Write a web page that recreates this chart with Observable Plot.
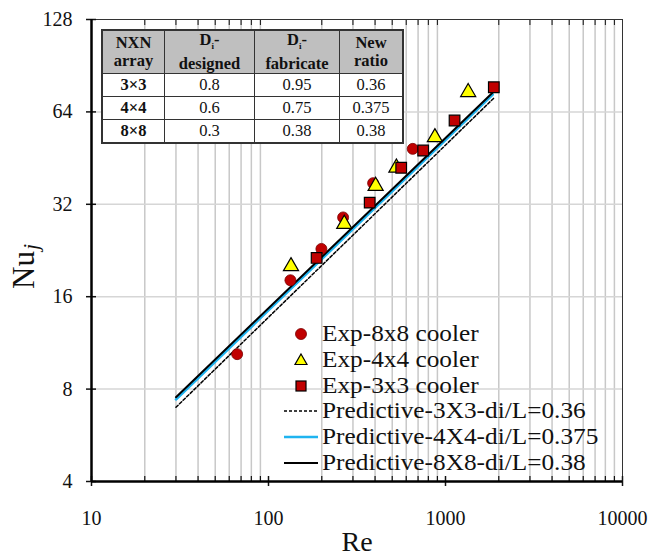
<!DOCTYPE html>
<html>
<head>
<meta charset="utf-8">
<script src="https://cdn.jsdelivr.net/npm/d3@7"></script>
<script src="https://cdn.jsdelivr.net/npm/@observablehq/plot@0.6"></script>
<style>
  html, body { margin: 0; padding: 0; background: white; }
  #wrap { position: relative; width: 654px; height: 558px; font-family: "Liberation Serif", "Times New Roman", Times, serif; }
  #tbl { position: absolute; left: 102px; top: 30px; border-collapse: collapse; background: white; font-size: 16.5px; color: #111; font-family: "Liberation Serif", "Times New Roman", Times, serif; }
  #tbl td, #tbl th { border: 1.5px solid #333; text-align: center; padding: 0; font-family: "Liberation Serif", "Times New Roman", Times, serif; }
  #tbl th { background: #bfbfbf; font-weight: bold; line-height: 18px; height: 40px; font-size: 16.5px; }
  #tbl td { height: 22px; line-height: 20px; }
  #tbl td.b { font-weight: bold; }
  #tbl { outline: 1px solid #333; }
  #legend { position: absolute; left: 283px; top: 321px; font-size: 23px; color: #111; font-family: "Liberation Serif", "Times New Roman", Times, serif; }
  .row { display: flex; align-items: center; height: 25.8px; }
  .row svg { flex: none; }
  .row span { margin-left: 3px; white-space: nowrap; display: inline-block; transform: scaleX(1.1); transform-origin: left center; }
</style>
</head>
<body>
<div id="wrap"></div>
<script>
// ---- axis ticks ----
const xMajor = [10, 100, 1000, 10000];
const xMinor = [20, 30, 40, 50, 60, 70, 80, 90, 200, 300, 400, 500, 600, 700, 800, 900, 2000, 3000, 4000, 5000, 6000, 7000, 8000, 9000];
const yTicks = [4, 8, 16, 32, 64, 128];
const yGrid = [8, 16, 32, 64];

// ---- experimental data ----
const re8 = [66.5, 133, 199, 264, 390, 653];
const nu8 = [10.4, 18.1, 22.9, 29.0, 37.5, 48.5];
const re4 = [134, 268, 403, 528, 871, 1343];
const nu4 = [20.1, 27.6, 36.7, 42.1, 52.9, 74.2];
const re3 = [187, 373, 562, 748, 1125, 1875];
const nu3 = [21.4, 32.4, 42.1, 47.9, 60.0, 77.0];

// ---- predictive lines (end points) ----
const rePred36 = [30, 1900];
const nuPred36 = [6.98, 71.5];
const rePred375 = [30, 1850];
const nuPred375 = [7.40, 72.9];
const rePred38 = [30, 1850];
const nuPred38 = [7.53, 74.0];

// ---- legend labels ----
const legendLabels = ["Exp-8x8 cooler", "Exp-4x4 cooler", "Exp-3x3 cooler",
  "Predictive-3X3-di/L=0.36", "Predictive-4X4-di/L=0.375", "Predictive-8X8-di/L=0.38"];

// ---- table ----
const tableHeader = ["NXN<br>array", "D<sub style='font-size:9px'>i</sub>-<br>designed", "D<sub style='font-size:9px'>i</sub>-<br>fabricate", "New<br>ratio"];
const colWidths = [61, 89, 84, 62];
const arrays = ["3×3", "4×4", "8×8"];
const designed = ["0.8", "0.6", "0.3"];
const fabricate = ["0.95", "0.75", "0.38"];
const ratio = ["0.36", "0.375", "0.38"];

const zip = (xs, ys) => xs.map((x, i) => ({re: x, nu: ys[i]}));
const d8 = zip(re8, nu8), d4 = zip(re4, nu4), d3s = zip(re3, nu3);
const p36 = zip(rePred36, nuPred36), p375 = zip(rePred375, nuPred375), p38 = zip(rePred38, nuPred38);

const RED = "#c00000", YEL = "#ffff00", BLUE = "#1fb4f0";
const SERIF = "'Liberation Serif', 'Times New Roman', Times, serif";

const chart = Plot.plot({
  width: 654, height: 558,
  marginLeft: 91, marginRight: 32, marginTop: 19, marginBottom: 77,
  x: {type: "log", domain: [10, 10000]},
  y: {type: "log", base: 2, domain: [4, 128]},
  style: {fontFamily: SERIF, color: "#111", background: "white", overflow: "visible"},
  marks: [
    Plot.ruleX(xMinor, {stroke: "#c8c8c8", strokeWidth: 1.5}),
    Plot.ruleY(yGrid, {stroke: "#d6d6d6", strokeWidth: 1.5}),
    Plot.ruleX([10000], {stroke: "#333", strokeWidth: 1}),
    Plot.ruleY([128], {stroke: "#333", strokeWidth: 1}),
    Plot.axisX(xMajor, {tickSize: 10, dy: -5, tickFormat: () => "", label: null, strokeWidth: 1.5}),
    Plot.axisX(xMinor, {tickSize: 5, dy: -5, tickFormat: () => "", label: null, strokeWidth: 1.2}),
    Plot.axisX(xMinor, {anchor: "top", tickSize: 5, dy: 5, tickFormat: () => "", label: null, strokeWidth: 1}),
    Plot.axisY(yTicks, {tickSize: 10, dx: 5, tickFormat: () => "", label: null, strokeWidth: 1.5}),
    Plot.ruleX([10], {stroke: "black", strokeWidth: 2.5}),
    Plot.ruleY([4], {stroke: "black", strokeWidth: 2.5}),
    Plot.text(yTicks, {y: d => d, text: d => String(d), frameAnchor: "left", dx: -19, textAnchor: "end", fontSize: 20, fontFamily: SERIF, fill: "#111"}),
    Plot.text(xMajor, {x: d => d, text: d => String(d), frameAnchor: "bottom", lineAnchor: "middle", dy: 37, fontSize: 20, fontFamily: SERIF, fill: "#111"}),
    Plot.text(["Re"], {text: d => d, frameAnchor: "bottom", lineAnchor: "middle", dy: 61, fontSize: 28, fontFamily: SERIF, fill: "#111"}),
    Plot.line(p36, {x: "re", y: "nu", stroke: "black", strokeWidth: 1.5, strokeDasharray: "3,2"}),
    Plot.line(p375, {x: "re", y: "nu", stroke: BLUE, strokeWidth: 2.5}),
    Plot.line(p38, {x: "re", y: "nu", stroke: "black", strokeWidth: 2}),
    Plot.dot(d8, {x: "re", y: "nu", symbol: "circle", r: 5.5, fill: RED, stroke: "#7a0000", strokeWidth: 0.8}),
    Plot.dot(d4, {x: "re", y: "nu", symbol: "triangle", r: 5.6, fill: YEL, stroke: "black", strokeWidth: 1.2}),
    Plot.dot(d3s, {x: "re", y: "nu", symbol: "square", r: 6, fill: RED, stroke: "black", strokeWidth: 1.2})
  ]
});

const wrap = document.getElementById("wrap");
wrap.appendChild(chart);

// y axis label with subscript
const lab = d3.select(chart).append("text")
  .attr("transform", "translate(34,289) rotate(-90)")
  .attr("text-anchor", "start")
  .attr("fill", "#111")
  .style("font-size", "31px")
  .style("font-family", SERIF);
lab.append("tspan").text("Nu");
lab.append("tspan").attr("dx", 1).attr("dy", 4).style("font-size", "22px").style("font-style", "italic").text("j");

// table
const tbl = document.createElement("table");
tbl.id = "tbl";
let html = "<tr>" + tableHeader.map((h, i) => `<th style="width:${colWidths[i]}px">${h}</th>`).join("") + "</tr>";
arrays.forEach((a, i) => {
  html += `<tr><td class="b">${a}</td><td>${designed[i]}</td><td>${fabricate[i]}</td><td>${ratio[i]}</td></tr>`;
});
tbl.innerHTML = html;
wrap.appendChild(tbl);

// legend
const symbols = [
  `<circle cx="18" cy="13" r="5.5" fill="${RED}" stroke="#7a0000" stroke-width="0.8"/>`,
  `<path d="M18,7 L24,17.5 L12,17.5 Z" fill="${YEL}" stroke="black" stroke-width="1.2"/>`,
  `<rect x="13" y="8" width="10" height="10" fill="${RED}" stroke="black" stroke-width="1.2"/>`,
  `<line x1="1" x2="35" y1="13" y2="13" stroke="black" stroke-width="1.5" stroke-dasharray="3,2"/>`,
  `<line x1="1" x2="35" y1="13" y2="13" stroke="${BLUE}" stroke-width="2.5"/>`,
  `<line x1="1" x2="35" y1="13" y2="13" stroke="black" stroke-width="2"/>`
];
const leg = document.createElement("div");
leg.id = "legend";
leg.innerHTML = legendLabels.map((l, i) => `<div class="row"><svg width="36" height="26">${symbols[i]}</svg><span>${l}</span></div>`).join("");
wrap.appendChild(leg);
</script>
</body>
</html>
